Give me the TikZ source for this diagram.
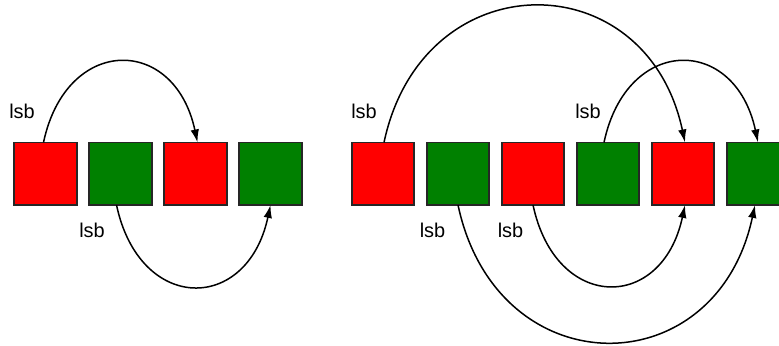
\documentclass[tikz,border=0pt]{standalone}
\usepackage{fontspec}
\setmainfont{Liberation Sans}
\usetikzlibrary{arrows.meta}
\definecolor{bitred}{HTML}{FF0000}
\definecolor{bitgreen}{HTML}{008000}
\tikzset{every node/.style={font=\fontsize{20}{24}\selectfont},
  bitbox/.style={draw=black!85,line width=1.8bp,minimum size=62.5bp,
    inner sep=0pt,outer sep=0pt},
  redbit/.style={bitbox,fill=bitred},
  greenbit/.style={bitbox,fill=bitgreen},
  lsblabel/.style={inner sep=0pt},
  jump/.style={line width=1.5bp,-{Latex[length=13bp,width=8.5bp]}}}

\begin{document}
\begin{tikzpicture}[x=1bp,y=1bp]
  \path[use as bounding box] (0,0) rectangle (779,345);
  \clip (0,0) rectangle (779,345);
  % left word
  \node[redbit]   (l1) at (45.5,171.3) {};
  \node[greenbit] (l2) at (120.5,171.3) {};
  \node[redbit]   (l3) at (195.5,171.3) {};
  \node[greenbit] (l4) at (270.5,171.3) {};
  \node[lsblabel] (la) at (22,233.3) {lsb};
  \node[lsblabel] (lb) at (92,115) {lsb};
  \draw[jump] ([xshift=-2bp]l1.north) to[out=78,in=102,looseness=1.83]
    ([xshift=2bp]l3.north);
  \draw[jump] ([xshift=-4bp]l2.south) to[out=-78,in=-102,looseness=1.85]
    (l4.south);
  % right word
  \node[redbit]   (r1) at (383,171.3) {};
  \node[greenbit] (r2) at (458,171.3) {};
  \node[redbit]   (r3) at (533,171.3) {};
  \node[greenbit] (r4) at (608,171.3) {};
  \node[redbit]   (r5) at (683,171.3) {};
  \node[greenbit] (r6) at (758,171.3) {};
  \node[lsblabel] (ra) at (364,233.3) {lsb};
  \node[lsblabel] (rb) at (588,233.3) {lsb};
  \node[lsblabel] (rc) at (432.5,115) {lsb};
  \node[lsblabel] (rd) at (510.5,115) {lsb};
  \draw[jump] ([xshift=1bp]r1.north) to[out=78,in=102,looseness=1.58]
    ([xshift=2bp]r5.north);
  \draw[jump] ([xshift=-4bp]r4.north) to[out=78,in=102,looseness=1.83]
    (r6.north);
  \draw[jump] (r3.south) to[out=-78,in=-102,looseness=1.85]
    ([xshift=2bp]r5.south);
  \draw[jump] (r2.south) to[out=-78,in=-102,looseness=1.61]
    ([xshift=-3bp]r6.south);
\end{tikzpicture}
\end{document}
